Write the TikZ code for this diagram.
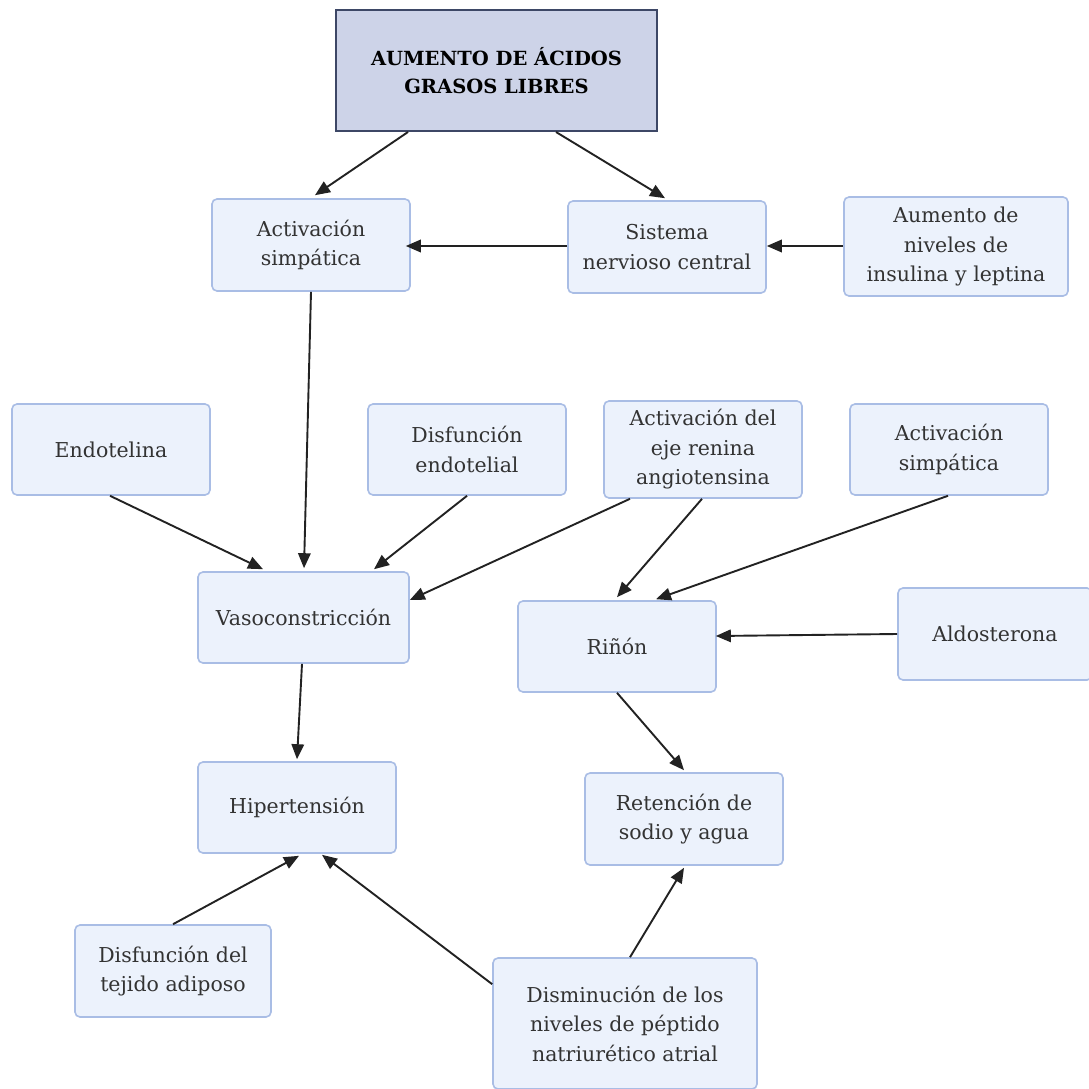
\documentclass[tikz,border=0pt]{standalone}
\usepackage{fontspec}
\setmainfont{DejaVu Serif}
\usetikzlibrary{arrows.meta}
\definecolor{boxfill}{HTML}{ECF2FC}
\definecolor{boxline}{HTML}{A9BDE5}
\definecolor{topfill}{HTML}{CDD3E8}
\definecolor{topline}{HTML}{3D4766}
\definecolor{txt}{HTML}{333333}
\definecolor{arr}{HTML}{222222}
\tikzset{
  box/.style={draw=boxline, fill=boxfill, line width=1.6pt, rounded corners=5pt,
    align=center, text=txt, font=\fontsize{20.5}{29.5}\selectfont,
    minimum width=198pt, minimum height=92pt, inner sep=2pt},
  topbox/.style={draw=topline, fill=topfill, line width=2pt,
    align=center, text=black, font=\fontsize{19.5}{28}\selectfont\bfseries,
    minimum width=321pt, minimum height=121pt, inner sep=2pt},
  link/.style={draw=arr, line width=1.9pt, -{Triangle[length=15pt,width=12.5pt]}}
}
\begin{document}
\begin{tikzpicture}[x=1pt,y=-1pt]
\useasboundingbox (0,0) rectangle (1088,1089);
\fill[white] (0,0) rectangle (1088,1089);
\node[topbox] (top) at (496.5,70.5) {AUMENTO DE ÁCIDOS\\GRASOS LIBRES};
\node[box] (act1) at (311,245) {Activación\\simpática};
\node[box] (snc) at (667,247) {Sistema\\nervioso central};
\node[box, minimum width=224pt, minimum height=99pt] (ins) at (956,246.5) {Aumento de\\niveles de\\insulina y leptina};
\node[box, minimum height=91pt] (endo) at (111,449.5) {Endotelina};
\node[box, minimum height=91pt] (disf) at (467,449.5) {Disfunción\\endotelial};
\node[box, minimum height=97pt] (eje) at (703,449.5) {Activación del\\eje renina\\angiotensina};
\node[box, minimum height=91pt] (act2) at (949,449.5) {Activación\\simpática};
\node[box, minimum width=211pt, minimum height=91pt] (vaso) at (303.5,617.5) {Vasoconstricción};
\node[box, minimum height=91pt] (rin) at (617,646.5) {Riñón};
\node[box, minimum width=194pt] (aldo) at (995,634) {Aldosterona};
\node[box, minimum height=91pt] (hip) at (297,807.5) {Hipertensión};
\node[box] (ret) at (684,819) {Retención de\\sodio y agua};
\node[box, minimum width=196pt] (tej) at (173,971) {Disfunción del\\tejido adiposo};
\node[box, minimum width=264pt, minimum height=131pt] (dism) at (625,1023.5) {Disminución de los\\niveles de péptido\\natriurético atrial};
% connectors
\draw[link] ([xshift=-88.5pt]top.south) -- ([xshift=4pt,yshift=3pt]act1.north);
\draw[link] ([xshift=59.5pt]top.south) -- ([xshift=-2pt,yshift=2pt]snc.north);
\draw[link] ([yshift=1pt]snc.west) -- ([xshift=-5pt,yshift=1pt]snc.west -| act1.east);
\draw[link] ([yshift=0.5pt]ins.west) -- ([yshift=0.5pt]ins.west -| snc.east);
\draw[link] (act1.south) -- ([xshift=0.5pt,yshift=3pt]vaso.north);
\draw[link] ([xshift=-1pt]endo.south) -- ([xshift=-40.5pt,yshift=2pt]vaso.north);
\draw[link] (disf.south) -- ([xshift=70.5pt,yshift=2pt]vaso.north);
\draw[link] ([xshift=-73pt]eje.south) -- ([yshift=17.5pt]vaso.east);
\draw[link] ([xshift=-1pt]eje.south) -- ([yshift=3pt]rin.north);
\draw[link] ([xshift=-1pt]act2.south) -- ([xshift=39pt,yshift=1pt]rin.north);
\draw[link] (aldo.west) -- ([yshift=10.5pt,xshift=-1pt]rin.east);
\draw[link] ([xshift=-1.5pt]vaso.south) -- ([yshift=2pt]hip.north);
\draw[link] (rin.south) -- ([yshift=2pt]ret.north);
\draw[link] (tej.north) -- ([xshift=2pt,yshift=-2pt]hip.south);
\draw[link] ([yshift=-27pt]dism.north west) -- ([xshift=25pt,yshift=-1pt]hip.south);
\draw[link] ([xshift=5pt]dism.north) -- ([yshift=-2pt]ret.south);
\end{tikzpicture}
\end{document}
